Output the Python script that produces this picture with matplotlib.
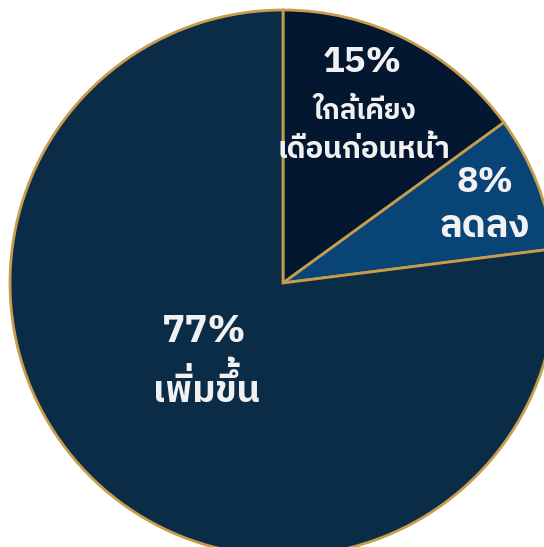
import matplotlib
matplotlib.use("Agg")
import matplotlib.pyplot as plt
from matplotlib.font_manager import FontProperties

# ---- data ----
categories = ["ใกล้เคียงเดือนก่อนหน้า", "ลดลง", "เพิ่มขึ้น"]
values = [15, 8, 77]
label_lines = [["ใกล้เคียง", "เดือนก่อนหน้า"], ["ลดลง"], ["เพิ่มขึ้น"]]
colors = ["#031731", "#084576", "#0b2c47"]

FONT = ["IBM Plex Sans Thai", "DejaVu Sans"]
TONE_MARKS = "\u0e48\u0e49\u0e4a\u0e4b\u0e4c"
UPPER_VOWELS = "\u0e31\u0e34\u0e35\u0e36\u0e37\u0e47"

W, H = 544, 547
fig = plt.figure(figsize=(W / 100, H / 100), dpi=100)
ax = fig.add_axes([0, 0, 1, 1])
ax.set_xlim(0, W)
ax.set_ylim(0, H)
ax.set_aspect("equal")
ax.axis("off")

cx, cy, R = 283, H - 283, 273
ax.pie(values, colors=colors, startangle=90, counterclock=False,
       center=(cx, cy), radius=R,
       wedgeprops=dict(edgecolor="#c79d4c", linewidth=2.0))
ax.set_xlim(0, W)
ax.set_ylim(0, H)

renderer = fig.canvas.get_renderer()
tc = "#f1f1f1"


def measure(s, prop):
    w, h, d = renderer.get_text_width_height_descent(s, prop, ismath=False)
    return w, h, d


def label(xc, baseline, s, width, weight):
    """Draw s with ink width `width` px, centred on xc, baseline at `baseline` (px from top).
    Tone marks stacked on an upper vowel are drawn raised (matplotlib has no mark stacking)."""
    prop10 = FontProperties(family=FONT, weight=weight, size=10)
    stacked = []
    out = ""
    for i, ch in enumerate(s):
        if ch in TONE_MARKS and i > 0 and s[i - 1] in UPPER_VOWELS:
            stacked.append((len(out), ch))
        else:
            out += ch
    base = out
    w10, _, _ = measure(base, prop10)
    size = 10 * width / w10
    prop = FontProperties(family=FONT, weight=weight, size=size)
    wb, _, _ = measure(base, prop)
    x0 = xc - wb / 2
    yb = H - baseline
    ax.text(x0, yb, base, ha="left", va="baseline", color=tc, fontproperties=prop)
    for idx, mark in stacked:
        pre = base[:idx]
        wpre, _, _ = measure(pre, prop)
        vowel = base[idx - 1]
        _, hv, _ = measure(vowel, prop)
        raise_px = hv + 0.06 * size * 100 / 72
        # a leading space gives the mark a carrier so the text has a width
        ax.text(x0 + wpre - 0.02 * size * 100 / 72, yb + raise_px, " " + mark,
                ha="right", va="baseline", color=tc, fontproperties=prop)


label(362.5, 72, f"{values[0]}%", 79, 700)
label(365, 119, label_lines[0][0], 102, 700)
label(364, 158, label_lines[0][1], 172, 700)
label(484.5, 192, f"{values[1]}%", 57, 700)
label(485, 237, label_lines[1][0], 90, 700)
label(204.5, 342, f"{values[2]}%", 85, 700)
label(206.5, 402, label_lines[2][0], 107, 700)

fig.savefig("out.png", dpi=100)
